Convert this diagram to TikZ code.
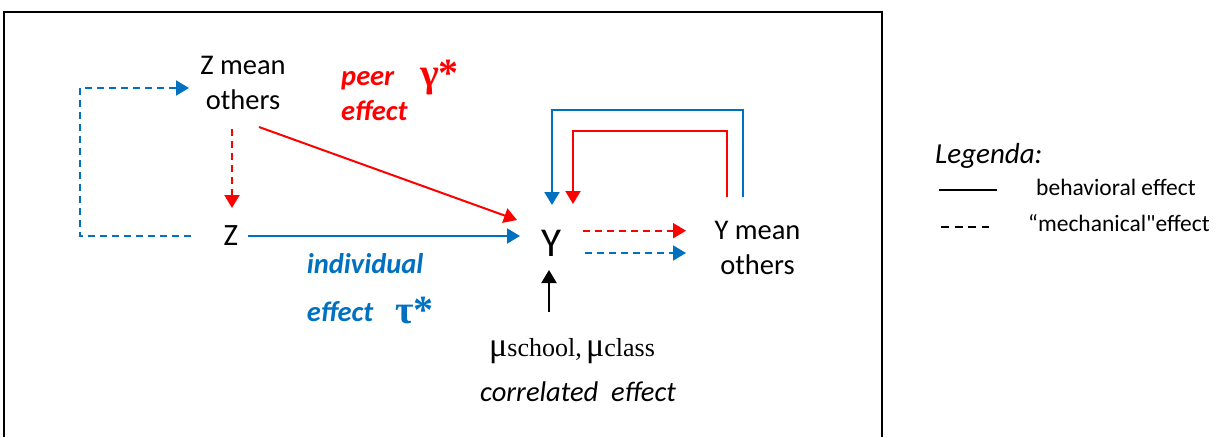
\documentclass[tikz,border=0pt]{standalone}
\usepackage{fontspec}
\setmainfont{Carlito}
\newfontfamily\muserif{Liberation Serif}
\newfontfamily\plainfont{Carlito}[Ligatures=TeXOff]
\usetikzlibrary{arrows.meta}
\definecolor{effred}{HTML}{FF0000}
\definecolor{effblue}{HTML}{0070C0}
\tikzset{
  lbl/.style={inner sep=0pt, font=\fontsize{28.5}{34}\selectfont},
  emph/.style={inner sep=0pt, font=\fontsize{28.5}{34}\selectfont\bfseries\itshape},
  greek/.style={inner sep=0pt, font=\muserif\fontsize{40}{48}\selectfont\bfseries},
  legtxt/.style={inner sep=0pt, font=\fontsize{23.5}{28}\selectfont},
  conn/.style={line width=2pt, line join=miter, -{Triangle[length=13pt,width=15pt]}},
  mech/.style={conn, dash pattern=on 7pt off 5pt},
}
\begin{document}
\begin{tikzpicture}[x=1pt,y=-1pt]
\useasboundingbox (0,0) rectangle (1223,437);
% frame
\draw[line width=2pt] (4,437) -- (4,12) -- (882,12) -- (882,437);

% text nodes
\node[lbl, anchor=base] (zm1) at (243,74.3) {Z mean};
\node[lbl, anchor=base] (zm2) at (243,109) {others};
\node[inner sep=0pt, anchor=base, font=\fontsize{31}{36}\selectfont] (z) at (231,245.5) {Z};
\node[inner sep=0pt, anchor=base, font=\fontsize{41}{48}\selectfont] (y) at (551,256) {Y};
\node[lbl, anchor=base] (ym1) at (757.5,239.3) {Y mean};
\node[lbl, anchor=base] (ym2) at (757.5,274) {others};

\node[emph, anchor=base west, text=effred] (peer) at (341,85) {peer};
\node[greek, anchor=base west, text=effred] (gamma) at (420,86) {γ*};
\node[emph, anchor=base west, text=effred] (peereff) at (341,120) {effect};

\node[emph, anchor=base west, text=effblue] (indiv) at (306.7,273) {individual};
\node[emph, anchor=base west, text=effblue] (indeff) at (306.7,321.7) {effect};
\node[greek, anchor=base west, text=effblue] (tau) at (395,323) {τ*};

\node[inner sep=0pt, anchor=base west, font=\muserif] (mu) at (489,356)
  {{\fontsize{34}{40}\selectfont μ}{\fontsize{26}{30}\selectfont school,\,}{\fontsize{34}{40}\selectfont μ}{\fontsize{26}{30}\selectfont class}};
\node[lbl, anchor=base west, font=\fontsize{28.5}{34}\selectfont\itshape] (corr) at (480,401) {correlated~ effect};

% legend
\node[inner sep=0pt, anchor=base west, font=\fontsize{29}{34}\selectfont\itshape] (leg) at (935,163.3) {Legenda:};
\node[legtxt, anchor=base west] (legb) at (1036,195) {behavioral effect};
\node[legtxt, anchor=base west, font=\plainfont\fontsize{23.5}{28}\selectfont] (legm) at (1028,231.7) {“mechanical"effect};
\coordinate (ls1) at (939,190);
\coordinate (ls2) at (997,190);
\coordinate (ld1) at (941,227.3);
\coordinate (ld2) at (989,227.3);
\draw[line width=1.8pt] (ls1) -- (ls2);
\draw[line width=1.8pt, dash pattern=on 8pt off 5.5pt] (ld1) -- (ld2);

% connector end points
\coordinate (zL) at (191,236);
\coordinate (zmL) at (189,88);
\coordinate (zmB) at (232,129);
\coordinate (zT) at (232,208);
\coordinate (zmR) at (259,127);
\coordinate (yNW) at (517,220);
\coordinate (zR) at (248,236);
\coordinate (yW) at (520,236);
\coordinate (yE1) at (583,230.7);
\coordinate (ymW1) at (686,230.7);
\coordinate (yE2) at (585,253);
\coordinate (ymW2) at (686,253);
\coordinate (muT) at (549,312);
\coordinate (yS) at (549,270);
\coordinate (ymTb) at (743,197);
\coordinate (yTb) at (552,205);
\coordinate (ymTr) at (727,197);
\coordinate (yTr) at (573,204);

% connectors
\draw[mech, effblue] (zL) -- (80,236) -- (80,88) -- (zmL);
\draw[mech, effred] (zmB) -- (zT);
\draw[conn, effred] (zmR) -- (yNW);
\draw[conn, effblue] (zR) -- (yW);
\draw[mech, effred] (yE1) -- (ymW1);
\draw[mech, effblue] (yE2) -- (ymW2);
\draw[conn, black] (muT) -- (yS);
\draw[conn, effblue] (ymTb) -- (743,110) -- (552,110) -- (yTb);
\draw[conn, effred] (ymTr) -- (727,130.7) -- (573,130.7) -- (yTr);
\end{tikzpicture}
\end{document}
